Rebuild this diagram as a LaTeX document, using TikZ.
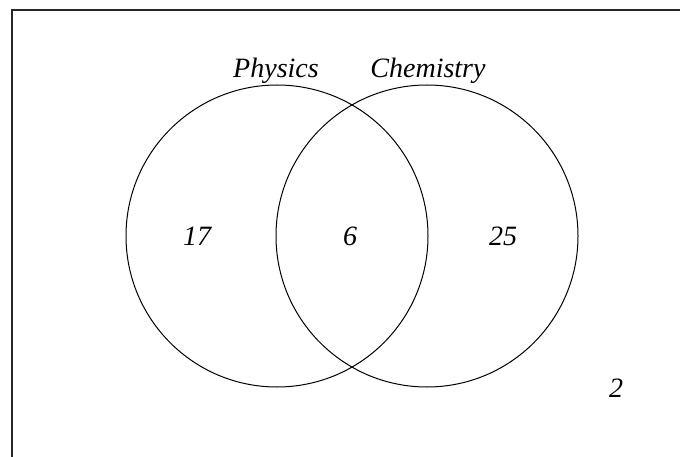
\documentclass[tikz,border=0pt]{standalone}
\usepackage{fontspec}
\setmainfont{Liberation Serif}
\begin{document}
\begin{tikzpicture}[x=1pt,y=-1pt,
  setcircle/.style={draw,line width=1pt},
  lbl/.style={font=\fontsize{28}{32}\selectfont\itshape,inner sep=0pt,anchor=base}]
\useasboundingbox (0,0) rectangle (680,457);
\coordinate (fb) at (12,460);
\coordinate (fc) at (12,10);
\coordinate (fr) at (683,10);
\draw[line width=1.5pt,black!85] (fb) -- (fc) -- (fr);
\node[setcircle,circle,minimum size=302pt,inner sep=0pt] (P) at (277,236) {};
\node[setcircle,circle,minimum size=302pt,inner sep=0pt] (C) at (427,236) {};
\node[lbl] (tP) at (276,78) {Physics};
\node[lbl] (tC) at (428,78) {Chemistry};
\node[lbl] (n17) at (197,246) {17};
\node[lbl] (n6) at (350,246) {6};
\node[lbl] (n25) at (503,246) {25};
\node[lbl] (n2) at (616,397) {2};
\end{tikzpicture}
\end{document}
